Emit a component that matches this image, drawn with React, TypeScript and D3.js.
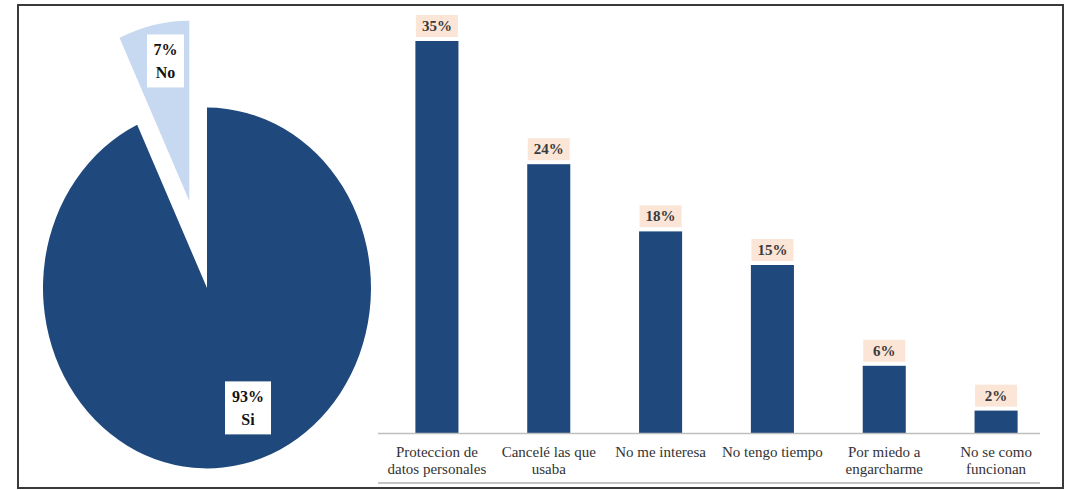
import React from "react";
import * as d3 from "d3";

const pieLabels = ["Si", "No"];
const pieValues = [93, 7];
const barCategories = [
  ["Proteccion de", "datos personales"],
  ["Cancelé las que", "usaba"],
  ["No me interesa"],
  ["No tengo tiempo"],
  ["Por miedo a", "engarcharme"],
  ["No se como", "funcionan"],
];
const barValues = [35, 24, 18, 15, 6, 2];

const W = 1067;
const H = 490;
const DARK = "#1f497d";
const LIGHT = "#c6d9f1";
const SERIF = "'Liberation Serif', 'Times New Roman', serif";

export default function App() {
  // Pie
  const cx = 207;
  const cy = 288;
  const r = 164;
  const sy = 1.1;
  const pie = d3.pie<number>().sort(null).startAngle(0).endAngle(2 * Math.PI);
  const arcs = pie(pieValues);
  const arc = d3.arc<d3.PieArcDatum<number>>().innerRadius(0).outerRadius(r);
  const explode = [0, 81];
  const labelAngleShift = [-0.14, 0.035];
  const labelRadius = [0.71, 0.79];

  // Bars
  const x = d3
    .scaleBand<number>()
    .domain(barValues.map((_, i) => i))
    .range([381, 1052])
    .padding(0);
  const y = d3.scaleLinear().domain([0, 35]).range([433, 41]);
  const barW = x.bandwidth() * 0.385;

  return (
    <svg
      width={W}
      height={H}
      style={{ position: "absolute", left: 0, top: 0, background: "#fff" }}
    >
      <rect x={0} y={0} width={W} height={H} fill="#fff" />
      <rect
        x={18}
        y={5}
        width={1045}
        height={483}
        fill="#fff"
        stroke="#3a3a3a"
        strokeWidth={2}
      />
      {/* Pie */}
      {arcs.map((a, i) => {
        const mid = (a.startAngle + a.endAngle) / 2;
        const dx = Math.sin(mid) * explode[i];
        const dy = -Math.cos(mid) * explode[i];
        return (
          <g key={i} transform={`translate(${cx},${cy}) scale(1,${sy}) translate(${dx},${dy})`}>
            <path d={arc(a) || ""} fill={i === 0 ? DARK : LIGHT} />
          </g>
        );
      })}
      {arcs.map((a, i) => {
        const mid = (a.startAngle + a.endAngle) / 2;
        const la = mid + labelAngleShift[i];
        const dx = Math.sin(mid) * explode[i];
        const dy = -Math.cos(mid) * explode[i];
        const lx = cx + dx + Math.sin(la) * r * labelRadius[i];
        const ly = cy + (dy - Math.cos(la) * r * labelRadius[i]) * sy;
        const bw = i === 0 ? 46 : 37;
        const bh = 53;
        return (
          <g key={"l" + i}>
            <rect x={lx - bw / 2} y={ly - bh / 2} width={bw} height={bh} fill="#fff" />
            <text
              x={lx}
              y={ly - 6}
              textAnchor="middle"
              fontFamily={SERIF}
              fontWeight="bold"
              fontSize={16}
              fill="#111"
            >
              {pieValues[i]}%
            </text>
            <text
              x={lx}
              y={ly + 17}
              textAnchor="middle"
              fontFamily={SERIF}
              fontWeight="bold"
              fontSize={16}
              fill="#111"
            >
              {pieLabels[i]}
            </text>
          </g>
        );
      })}
      {/* Bars */}
      {barValues.map((v, i) => {
        const c = (x(i) as number) + x.bandwidth() / 2;
        return (
          <g key={"b" + i}>
            <rect x={c - barW / 2} y={y(v)} width={barW} height={y(0) - y(v)} fill={DARK} />
            <rect x={c - 21} y={y(v) - 26} width={42} height={22} fill="#fbe5d6" />
            <text
              x={c}
              y={y(v) - 10}
              textAnchor="middle"
              fontFamily={SERIF}
              fontSize={15}
              fontWeight="bold"
              fill="#3a3a3a"
            >
              {v}%
            </text>
            {barCategories[i].map((line, j) => (
              <text
                key={j}
                x={c}
                y={457 + j * 17}
                textAnchor="middle"
                fontFamily={SERIF}
                fontSize={15}
                fill="#333"
              >
                {line}
              </text>
            ))}
          </g>
        );
      })}
      <line x1={378} x2={1040} y1={y(0) + 0.5} y2={y(0) + 0.5} stroke="#bfbfbf" strokeWidth={1.5} />
      <line x1={378} x2={1040} y1={483} y2={483} stroke="#8c8c8c" strokeWidth={1.2} />
    </svg>
  );
}
